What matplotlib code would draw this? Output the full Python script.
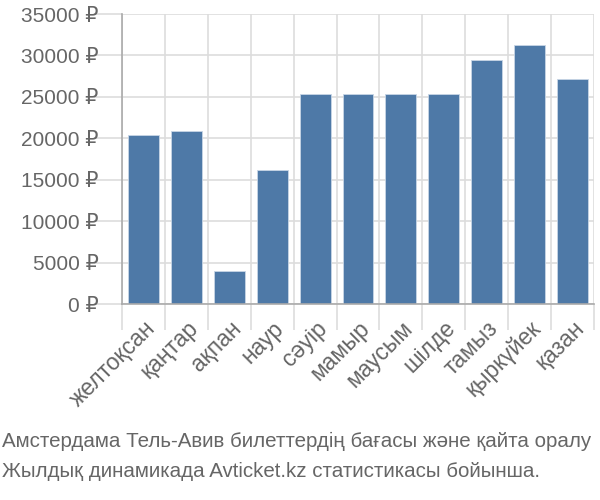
import matplotlib
matplotlib.use("Agg")
import matplotlib.pyplot as plt
import numpy as np

months = ["желтоқсан", "қаңтар", "ақпан", "наур", "сәуір", "мамыр",
          "маусым", "шілде", "тамыз", "қыркүйек", "қазан"]
prices = [20400, 20900, 4000, 16200, 25300, 25400, 25400, 25400, 29400, 31300, 27200]
yticks = [0, 5000, 10000, 15000, 20000, 25000, 30000, 35000]
caption = ["Амстердама Тель-Авив билеттердің бағасы және қайта оралу",
           "Жылдық динамикада Avticket.kz статистикасы бойынша."]

plt.rcParams['font.family'] = ['Liberation Sans', 'DejaVu Sans']
text_color = "#666666"
grid_color = "#dddddd"

fig = plt.figure(figsize=(6, 5), dpi=100)
ax = fig.add_axes([122 / 600, 1 - 304 / 500, 472 / 600, 290 / 500])

x = np.arange(len(months))
ax.bar(x, prices, width=0.72, color="#4e79a7", edgecolor="#c8d6e6", linewidth=0.6, zorder=3)

ax.set_xlim(-0.5, len(months) - 0.5)
ax.set_ylim(0, 35000)

# grid lines sit on category boundaries
ax.set_xticks(np.arange(len(months) + 1) - 0.5, minor=False)
ax.set_xticklabels([])
ax.set_xticks(x, minor=True)
ax.set_xticklabels(months, minor=True, rotation=45, ha="right", va="top",
                   rotation_mode="anchor", fontsize=16.5, color=text_color)
ax.tick_params(axis="x", which="major", length=19, color=grid_color, width=1.2)
ax.tick_params(axis="x", which="minor", length=0, pad=9)

ax.set_yticks(yticks)
ax.set_yticklabels([f"{v} ₽" for v in yticks], fontsize=15, color=text_color)
ax.tick_params(axis="y", length=20, color=grid_color, width=1.2, pad=-3)

ax.grid(True, which="major", color=grid_color, linewidth=1.2, zorder=0)
for s in ["top", "right"]:
    ax.spines[s].set_visible(False)
for s in ["left", "bottom"]:
    ax.spines[s].set_color("#aaaaaa")
    ax.spines[s].set_linewidth(1.2)
    ax.spines[s].set_zorder(4)

fig.text(0.003, 1 - 447 / 500, caption[0], ha="left", va="baseline",
         fontsize=14.8, color=text_color)
fig.text(0.003, 1 - 477 / 500, caption[1], ha="left", va="baseline",
         fontsize=14.8, color=text_color)

fig.savefig("out.png", dpi=100)
